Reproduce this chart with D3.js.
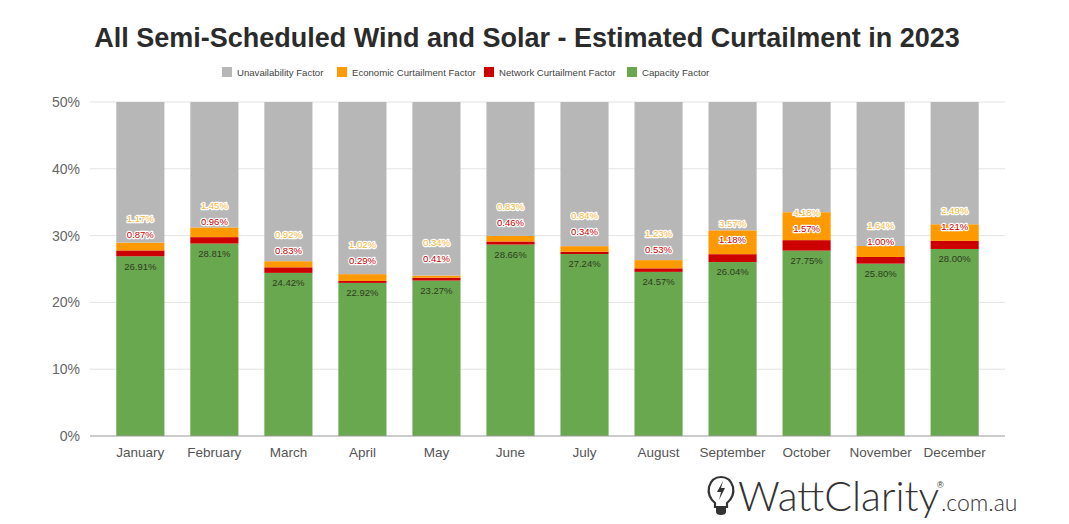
<!DOCTYPE html>
<html>
<head>
<meta charset="utf-8">
<script src="https://cdn.jsdelivr.net/npm/d3@7"></script>
<style>
  body { margin: 0; background: #fff; }
  svg { display: block; font-family: "Liberation Sans", Arial, sans-serif; }
</style>
</head>
<body>
<svg id="chart" width="1069" height="524"></svg>
<script>
const months = ['January', 'February', 'March', 'April', 'May', 'June',
    'July', 'August', 'September', 'October', 'November', 'December'];
const capacity = [26.91, 28.81, 24.42, 22.92, 23.27, 28.66, 27.24, 24.57, 26.04, 27.75, 25.80, 28.00];
const network = [0.87, 0.96, 0.83, 0.29, 0.41, 0.46, 0.34, 0.53, 1.18, 1.57, 1.00, 1.21];
const economic = [1.17, 1.45, 0.92, 1.02, 0.34, 0.83, 0.84, 1.23, 3.57, 4.18, 1.64, 2.49];
const unavailability = [71.05, 68.78, 73.83, 75.77, 75.98, 70.05, 71.58, 73.67, 69.21, 66.50, 71.56, 68.30];
const yTicks = [0, 10, 20, 30, 40, 50];

const seriesKeys = ['capacity', 'network', 'economic', 'unavailability'];
const seriesNames = {
    unavailability: 'Unavailability Factor',
    economic: 'Economic Curtailment Factor',
    network: 'Network Curtailment Factor',
    capacity: 'Capacity Factor'
};
const colors = {
    capacity: '#6aa84f',
    network: '#cc0000',
    economic: '#ff9900',
    unavailability: '#b7b7b7'
};

const rows = months.map((m, i) => ({
    month: m,
    capacity: capacity[i],
    network: network[i],
    economic: economic[i],
    unavailability: unavailability[i]
}));

const svg = d3.select('#chart');
const plotLeft = 90, plotRight = 1005, plotTop = 102, plotBottom = 436;

const x = d3.scaleBand().domain(months).range([plotLeft, plotRight])
    .paddingInner(0.35).paddingOuter(0.355);
const y = d3.scaleLinear().domain([0, 50]).range([plotBottom, plotTop]);

// title
svg.append('text')
    .attr('x', 527).attr('y', 47)
    .attr('text-anchor', 'middle')
    .style('font-size', '27px').style('font-weight', 'bold').style('fill', '#2b2b2b')
    .text('All Semi-Scheduled Wind and Solar - Estimated Curtailment in 2023');

// legend
const legendOrder = ['unavailability', 'economic', 'network', 'capacity'];
const legendX = [222, 337, 484, 627];
const lg = svg.append('g');
legendOrder.forEach((k, i) => {
    const g = lg.append('g').attr('transform', `translate(${legendX[i]},67)`);
    g.append('rect').attr('width', 10).attr('height', 10).attr('fill', colors[k]);
    g.append('text').attr('x', 15).attr('y', 9)
        .style('font-size', '9.6px').style('fill', '#444')
        .text(seriesNames[k]);
});

// grid
svg.append('g')
    .selectAll('line')
    .data(yTicks.filter(d => d > 0))
    .join('line')
    .attr('x1', plotLeft).attr('x2', plotRight)
    .attr('y1', d => y(d)).attr('y2', d => y(d))
    .attr('stroke', '#e3e3e3').attr('stroke-width', 1);

// y axis labels
const yAxis = d3.axisLeft(y).tickValues(yTicks).tickSize(0).tickPadding(10)
    .tickFormat(d => d + '%');
svg.append('g')
    .attr('transform', `translate(${plotLeft},0)`)
    .call(yAxis)
    .call(g => g.select('.domain').remove())
    .call(g => g.selectAll('text').style('font-size', '14px').style('fill', '#666')
        .style('font-family', '"Liberation Sans", Arial, sans-serif'));

// stacked bars
const stack = d3.stack().keys(seriesKeys);
const layers = stack(rows);

svg.append('clipPath').attr('id', 'plotclip')
    .append('rect').attr('x', plotLeft).attr('y', plotTop)
    .attr('width', plotRight - plotLeft).attr('height', plotBottom - plotTop);

svg.append('g').attr('clip-path', 'url(#plotclip)')
    .selectAll('g')
    .data(layers)
    .join('g')
    .attr('fill', d => colors[d.key])
    .selectAll('rect')
    .data(d => d)
    .join('rect')
    .attr('x', d => x(d.data.month))
    .attr('width', x.bandwidth())
    .attr('y', d => y(d[1]))
    .attr('height', d => y(d[0]) - y(d[1]));

// baseline
svg.append('line')
    .attr('x1', plotLeft).attr('x2', plotRight)
    .attr('y1', plotBottom).attr('y2', plotBottom)
    .attr('stroke', '#999').attr('stroke-width', 1.2);

// x axis labels
const xAxis = d3.axisBottom(x).tickSize(0).tickPadding(11);
svg.append('g')
    .attr('transform', `translate(0,${plotBottom})`)
    .call(xAxis)
    .call(g => g.select('.domain').remove())
    .call(g => g.selectAll('text').style('font-size', '13.5px').style('fill', '#555')
        .style('font-family', '"Liberation Sans", Arial, sans-serif'));

// data labels, pushed upward so they don't collide
const labels = svg.append('g').style('font-size', '9.5px').attr('text-anchor', 'middle');
rows.forEach((r, i) => {
    const cx = x(r.month) + x.bandwidth() / 2;
    const capTop = y(r.capacity);
    const capY = capTop + 10;
    const netCenter = y(r.capacity + r.network / 2);
    const netY = Math.min(netCenter, capY - 32);
    const ecoCenter = y(r.capacity + r.network + r.economic / 2);
    const ecoY = Math.min(ecoCenter, netY - 16);

    labels.append('text')
        .attr('x', cx).attr('y', capY).attr('dy', '0.35em')
        .style('fill', '#2d3a22')
        .text(r.capacity.toFixed(2) + '%');

    labels.append('text')
        .attr('x', cx).attr('y', netY).attr('dy', '0.35em')
        .style('fill', '#cc0000')
        .style('stroke', '#fff').style('stroke-width', 2.5)
        .style('paint-order', 'stroke').style('stroke-linejoin', 'round')
        .text(r.network.toFixed(2) + '%');

    labels.append('text')
        .attr('x', cx).attr('y', ecoY).attr('dy', '0.35em')
        .style('fill', '#f7b73c')
        .style('stroke', '#fff').style('stroke-width', 2.5)
        .style('paint-order', 'stroke').style('stroke-linejoin', 'round')
        .text(r.economic.toFixed(2) + '%');
});

// logo
const logo = svg.append('g').attr('transform', 'translate(708,476)');
logo.append('path')
    .attr('d', 'M7,27 C1,22 0,16 1,11 C3,4 8,1 13,1 C18,1 23,4 25,11 C26,16 25,22 19,27 L19,31 L7,31 Z')
    .attr('fill', 'none').attr('stroke', '#333').attr('stroke-width', 2.2);
logo.append('path')
    .attr('d', 'M8,32 L18,32 L18,36 C18,38 16,39 13,39 C10,39 8,38 8,36 Z')
    .attr('fill', '#333');
logo.append('path')
    .attr('d', 'M15,5 L9,16 L13,16 L11,24 L17,12 L13,12 Z')
    .attr('fill', '#333');
svg.append('text')
    .attr('x', 738).attr('y', 511)
    .style('font-family', 'Lato, "Open Sans", sans-serif').style('font-weight', 300)
    .style('font-size', '41px').style('fill', '#333')
    .text('WattClarity');
svg.append('text')
    .attr('x', 937).attr('y', 488)
    .style('font-size', '9px').style('fill', '#333')
    .text('®');
svg.append('text')
    .attr('x', 941).attr('y', 511)
    .style('font-family', 'Lato, "Open Sans", sans-serif').style('font-weight', 300)
    .style('font-size', '23px').style('fill', '#333')
    .text('.com.au');
</script>
</body>
</html>
